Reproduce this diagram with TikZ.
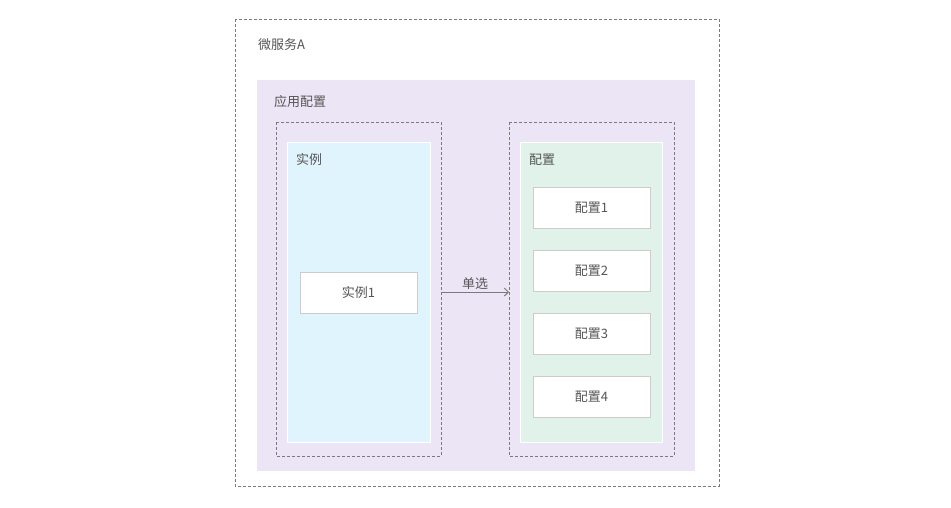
\documentclass[tikz,border=0pt]{standalone}
\usepackage{fontspec}
\setmainfont{Noto Sans CJK SC}
\usepackage{xcolor}
\definecolor{colorText}{HTML}{555555}
\definecolor{colorDash}{HTML}{7A7A7A}
\definecolor{colorApp}{HTML}{ECE5F6}
\definecolor{colorInst}{HTML}{E0F4FD}
\definecolor{colorConf}{HTML}{E1F2EA}
\definecolor{colorItem}{HTML}{CCCCCC}
\usetikzlibrary{arrows.meta, positioning}

\begin{document}
\begin{tikzpicture}[x=1pt, y=-1pt, >={Straight Barb[length=4pt,width=8pt]},
  every node/.style={font=\fontsize{13}{15}\selectfont, text=colorText},
  frame/.style={draw=colorDash, dash pattern=on 3pt off 2pt, line width=0.8pt},
  title/.style={anchor=west, inner sep=0pt},
  item/.style={draw=colorItem, fill=white, line width=1pt, minimum width=117pt, minimum height=41pt, inner sep=0pt}]
\useasboundingbox (0,0) rectangle (951,507);
% outer service
\draw[frame] (235,19) rectangle (719,486);
\node[title] (svc) at (258,45) {微服务A};
% application config
\fill[colorApp] (257,80) rectangle (695,471);
\node[title] (app) at (274,102) {应用配置};
% instances
\draw[frame] (276,122) rectangle (441,456);
\draw[white, line width=1pt, fill=colorInst] (287,142) rectangle (430,442);
\node[title] (inst) at (296,160) {实例};
\node[item] (i1) at (358.5,292.5) {实例1};
% configs
\draw[frame] (509,122) rectangle (674,456);
\draw[white, line width=1pt, fill=colorConf] (520,142) rectangle (662,442);
\node[title] (conf) at (529,160) {配置};
\node[item] (c1) at (591.5,207.5) {配置1};
\node[item, below=21pt of c1] (c2) {配置2};
\node[item, below=21pt of c2] (c3) {配置3};
\node[item, below=21pt of c3] (c4) {配置4};
% selection
\coordinate (src) at (441,292);
\coordinate (dst) at (509,292);
\draw[->, colorDash, line width=1pt] (src) -- node[above, inner sep=2pt] {单选} (dst);
\end{tikzpicture}
\end{document}
